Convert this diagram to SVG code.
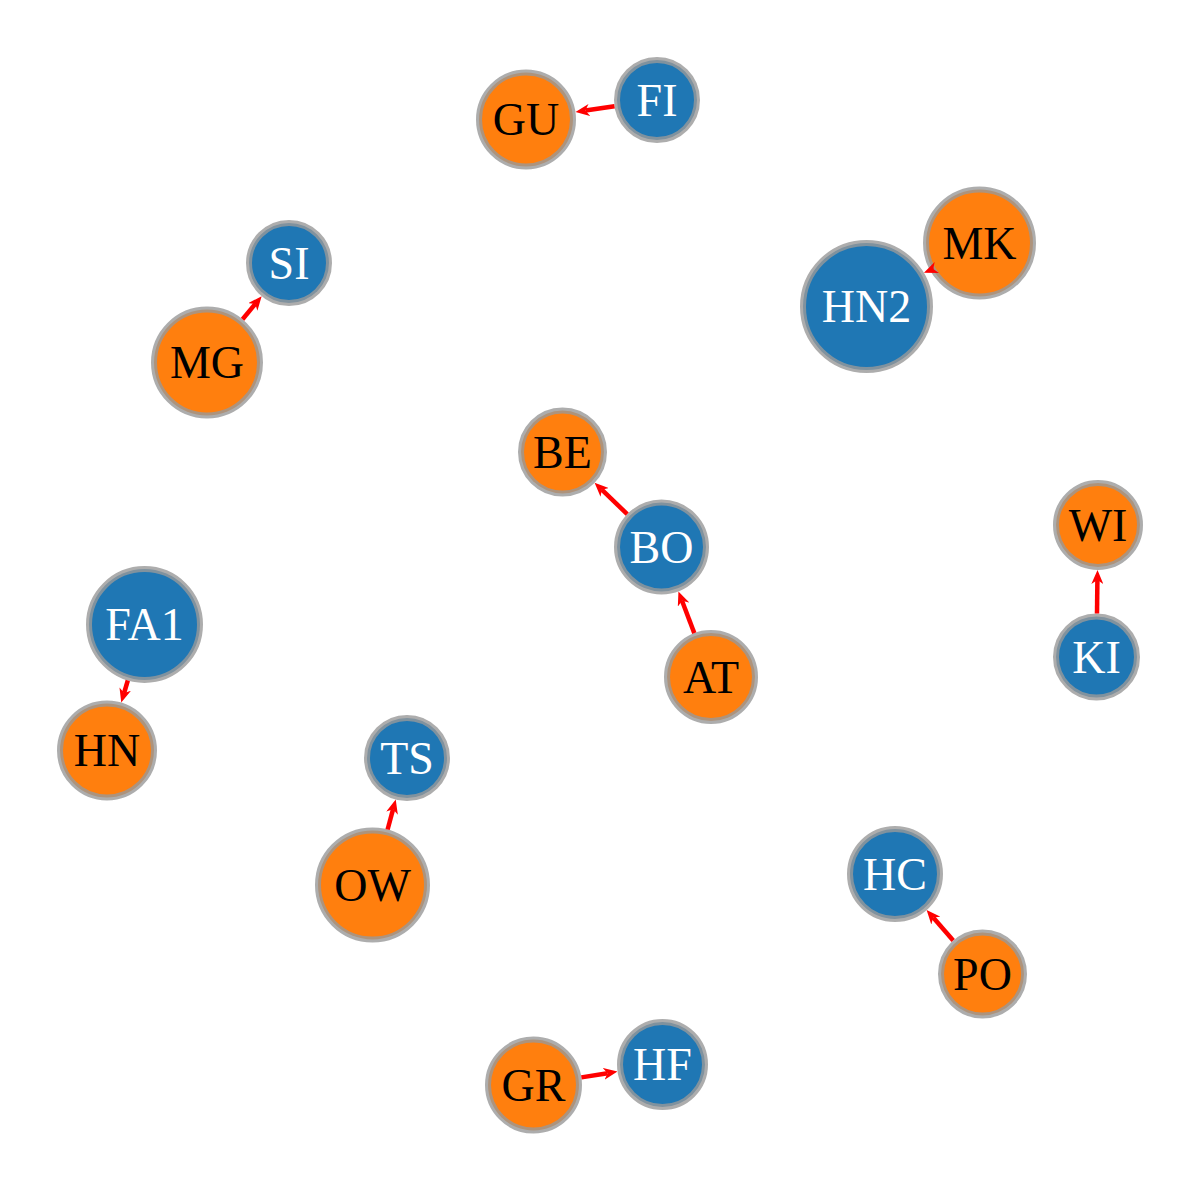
<svg xmlns="http://www.w3.org/2000/svg" width="1200" height="1190" viewBox="0 0 1200 1190">
<style>
.node circle{stroke:#999;stroke-opacity:0.8;stroke-width:6}
.blue circle{fill:#1f77b4}
.orange circle{fill:#ff7f0e}
.node text{font-family:"Liberation Serif","Times New Roman",serif;font-size:46px;text-anchor:middle}
.blue text{fill:#fff}
.orange text{fill:#000}
.link{stroke:#f00;stroke-width:4.5;fill:none;marker-end:url(#arrow)}
</style>
<defs>
<marker id="arrow" markerUnits="userSpaceOnUse" viewBox="0 -6 14 12" refX="4" refY="0" markerWidth="14" markerHeight="12" orient="auto">
<path d="M0,-6 L14,0 L0,6 L4,0 Z" fill="#f00"/>
</marker>
</defs>
<rect width="1200" height="1190" fill="#fff"/>
<g id="nodes">
<g id="GU" class="node orange"><circle cx="526" cy="119.5" r="47"/><text x="526" y="119.5" dy="0.34em">GU</text></g>
<g id="FI" class="node blue"><circle cx="657" cy="100" r="40"/><text x="657" y="100" dy="0.34em">FI</text></g>
<g id="MK" class="node orange"><circle cx="979.5" cy="243" r="53.5"/><text x="979.5" y="243" dy="0.34em">MK</text></g>
<g id="HN2" class="node blue"><circle cx="866.5" cy="306.5" r="63.5"/><text x="866.5" y="306.5" dy="0.34em">HN2</text></g>
<g id="SI" class="node blue"><circle cx="289" cy="263" r="40"/><text x="289" y="263" dy="0.34em">SI</text></g>
<g id="MG" class="node orange"><circle cx="207" cy="362.5" r="53"/><text x="207" y="362.5" dy="0.34em">MG</text></g>
<g id="BE" class="node orange"><circle cx="562.5" cy="452" r="41.5"/><text x="562.5" y="452" dy="0.34em">BE</text></g>
<g id="BO" class="node blue"><circle cx="661.5" cy="547" r="44.5"/><text x="661.5" y="547" dy="0.34em">BO</text></g>
<g id="AT" class="node orange"><circle cx="711" cy="677" r="44"/><text x="711" y="677" dy="0.34em">AT</text></g>
<g id="FA1" class="node blue"><circle cx="144.5" cy="624.5" r="55.5"/><text x="144.5" y="624.5" dy="0.34em">FA1</text></g>
<g id="HN" class="node orange"><circle cx="107" cy="750.5" r="47"/><text x="107" y="750.5" dy="0.34em">HN</text></g>
<g id="WI" class="node orange"><circle cx="1098" cy="525" r="42"/><text x="1098" y="525" dy="0.34em">WI</text></g>
<g id="KI" class="node blue"><circle cx="1096.5" cy="657" r="40.5"/><text x="1096.5" y="657" dy="0.34em">KI</text></g>
<g id="TS" class="node blue"><circle cx="407" cy="758" r="40"/><text x="407" y="758" dy="0.34em">TS</text></g>
<g id="OW" class="node orange"><circle cx="372.5" cy="885" r="54.5"/><text x="372.5" y="885" dy="0.34em">OW</text></g>
<g id="HC" class="node blue"><circle cx="895" cy="874" r="45"/><text x="895" y="874" dy="0.34em">HC</text></g>
<g id="PO" class="node orange"><circle cx="982.5" cy="974" r="41.5"/><text x="982.5" y="974" dy="0.34em">PO</text></g>
<g id="GR" class="node orange"><circle cx="533.5" cy="1085" r="45.5"/><text x="533.5" y="1085" dy="0.34em">GR</text></g>
<g id="HF" class="node blue"><circle cx="662.5" cy="1064.5" r="42.5"/><text x="662.5" y="1064.5" dy="0.34em">HF</text></g>
</g>
<g id="links">
<path class="link" d="M614.5,106.3 L585.4,110.6"/>
<path class="link" d="M933.7,268.8 L933.2,269.0"/>
<path class="link" d="M242.6,319.3 L255.3,303.9"/>
<path class="link" d="M627.2,514.1 L601.8,489.7"/>
<path class="link" d="M694.3,633.1 L682.0,600.8"/>
<path class="link" d="M127.8,680.5 L124.1,693.0"/>
<path class="link" d="M1097,613.5 L1097.4,580"/>
<path class="link" d="M387.6,829.5 L393.1,809.2"/>
<path class="link" d="M953.2,940.5 L933.2,917.6"/>
<path class="link" d="M581.4,1077.4 L607.6,1073.2"/>
</g>
</svg>
